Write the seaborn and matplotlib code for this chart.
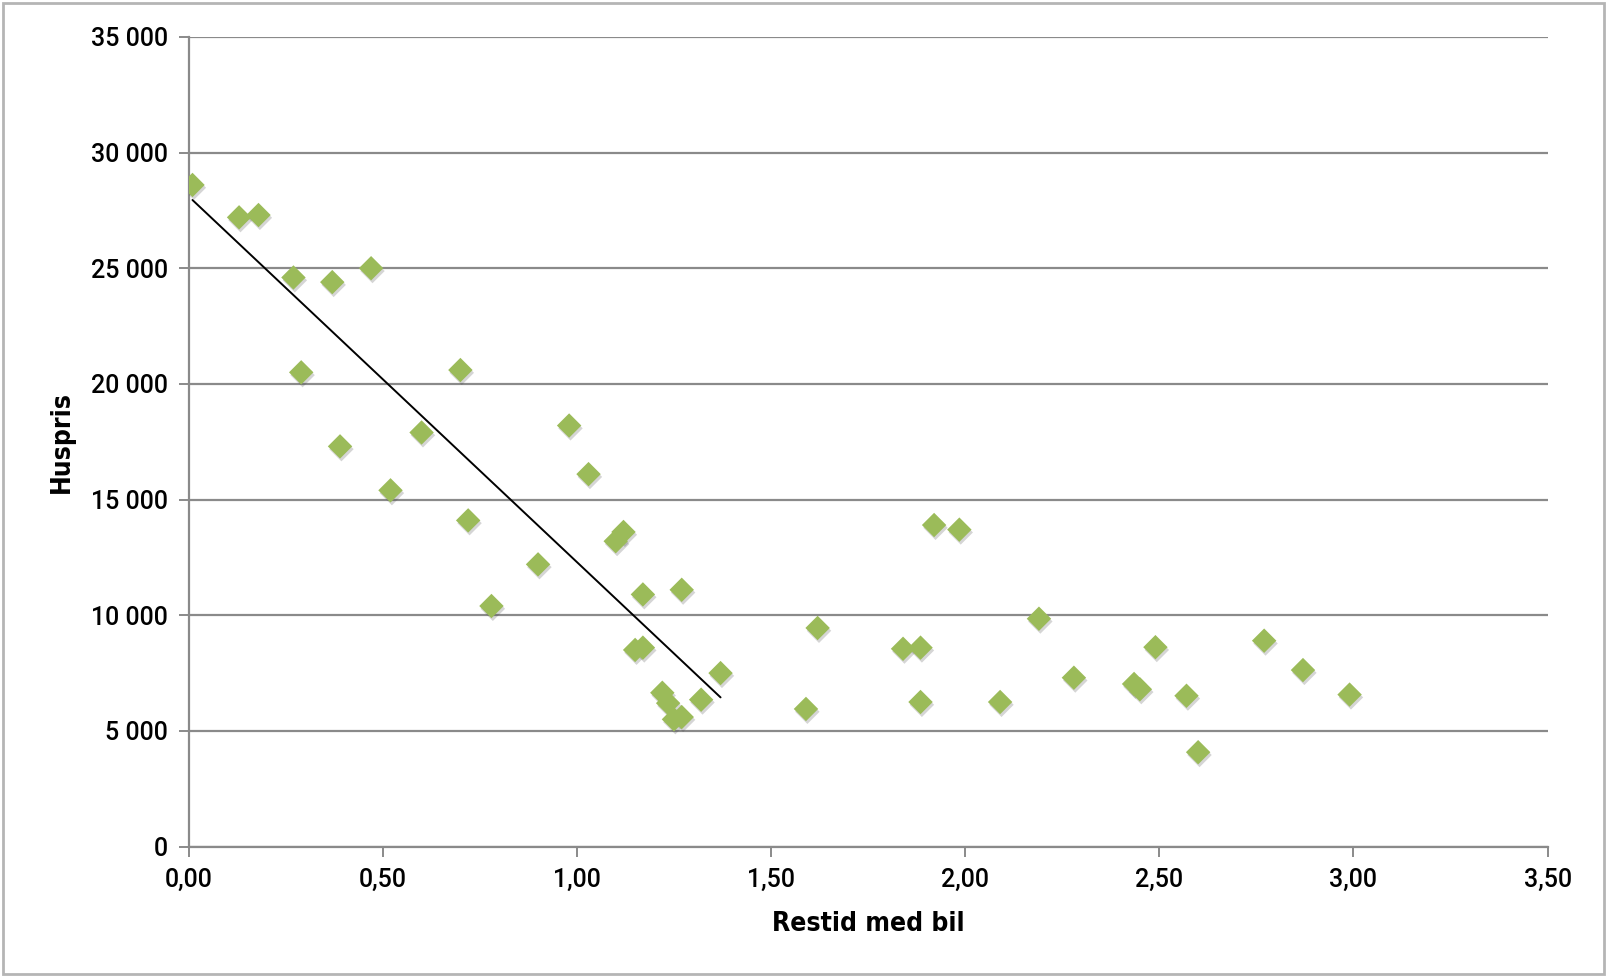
import matplotlib
matplotlib.use("Agg")
import matplotlib.pyplot as plt
import matplotlib.patheffects as pe
from matplotlib.ticker import FuncFormatter
from matplotlib.patches import Rectangle
import seaborn as sns
import pandas as pd

# Data: travel time by car (hours) vs house price
restid = [0.01, 0.13, 0.18, 0.27, 0.37, 0.47, 0.29, 0.39, 0.52, 0.60,
          0.70, 0.72, 0.78, 0.90, 0.98, 1.03, 1.10, 1.12, 1.17, 1.15,
          1.17, 1.22, 1.235, 1.25, 1.27, 1.27, 1.32, 1.37, 1.59, 1.62,
          1.84, 1.885, 1.885, 1.92, 1.985, 2.09, 2.19, 2.28, 2.435, 2.45,
          2.49, 2.57, 2.60, 2.77, 2.87, 2.99]
huspris = [28600, 27200, 27300, 24600, 24400, 25000, 20500, 17300, 15400, 17900,
           20600, 14100, 10400, 12200, 18200, 16100, 13200, 13600, 10900, 8500,
           8600, 6650, 6200, 5500, 5600, 11100, 6350, 7500, 5950, 9450,
           8550, 8600, 6250, 13900, 13700, 6250, 9850, 7300, 7030, 6800,
           8620, 6520, 4080, 8900, 7630, 6570]

# Trend line endpoints
trend_x = [0.01, 1.37]
trend_y = [27950, 6450]

x_ticks = [0.0, 0.5, 1.0, 1.5, 2.0, 2.5, 3.0, 3.5]
y_ticks = [0, 5000, 10000, 15000, 20000, 25000, 30000, 35000]

x_label = "Restid med bil"
y_label = "Huspris"

df = pd.DataFrame({"Restid": restid, "Huspris": huspris})

sns.set_theme(style="white")
plt.rcParams["font.family"] = ["DejaVu Sans"]

W, H = 1607, 977
fig = plt.figure(figsize=(W / 100, H / 100), dpi=100)
ax = fig.add_axes([188.6 / W, 1 - 846.6 / H, (1547.6 - 188.6) / W, (846.6 - 36.9) / H])

grey = "#8a8a8a"
green = "#9BBB59"

ax.set_axisbelow(True)
ax.yaxis.grid(True, color=grey, linewidth=1.6)
ax.xaxis.grid(False)

sns.lineplot(x=trend_x, y=trend_y, color="black", linewidth=1.4, ax=ax, zorder=3)

sns.scatterplot(data=df, x="Restid", y="Huspris", marker="D", s=155,
                color=green, edgecolor="none", linewidth=0, ax=ax, zorder=4)
for coll in ax.collections:
    coll.set_path_effects([pe.SimplePatchShadow(offset=(1.0, -2.0), shadow_rgbFace="#404040", alpha=0.22),
                           pe.Normal()])

ax.set_xlim(0, 3.5)
ax.set_ylim(0, 35000)
ax.set_xticks(x_ticks)
ax.set_yticks(y_ticks)
ax.xaxis.set_major_formatter(FuncFormatter(lambda v, p: f"{v:.2f}".replace(".", ",")))
ax.yaxis.set_major_formatter(FuncFormatter(lambda v, p: f"{int(round(v)):,}".replace(",", " ")))

for side in ["top", "right"]:
    ax.spines[side].set_visible(False)
for side in ["left", "bottom"]:
    ax.spines[side].set_color(grey)
    ax.spines[side].set_linewidth(1.6)

ax.tick_params(axis="both", which="major", length=7, width=1.4, color=grey,
               labelcolor="black", direction="out")
ax.tick_params(axis="x", pad=8)
ax.tick_params(axis="y", pad=8)
ax.xaxis.set_ticks_position("bottom")
ax.yaxis.set_ticks_position("left")
for lab in ax.get_xticklabels() + ax.get_yticklabels():
    lab.set_fontfamily(["Roboto", "DejaVu Sans"])
    lab.set_fontweight("medium")
    lab.set_fontsize(18)

ax.set_xlabel(x_label, fontsize=19, fontweight="bold", fontstretch="condensed",
              labelpad=14, color="black")
ax.set_ylabel(y_label, fontsize=19, fontweight="bold", fontstretch="condensed",
              labelpad=11, color="black")

fig.patches.append(Rectangle((3 / W, 3 / H), (W - 6) / W, (H - 6) / H,
                             transform=fig.transFigure, fill=False,
                             edgecolor="#b5b5b5", linewidth=2))

fig.savefig("out.png", dpi=100, facecolor="white")
